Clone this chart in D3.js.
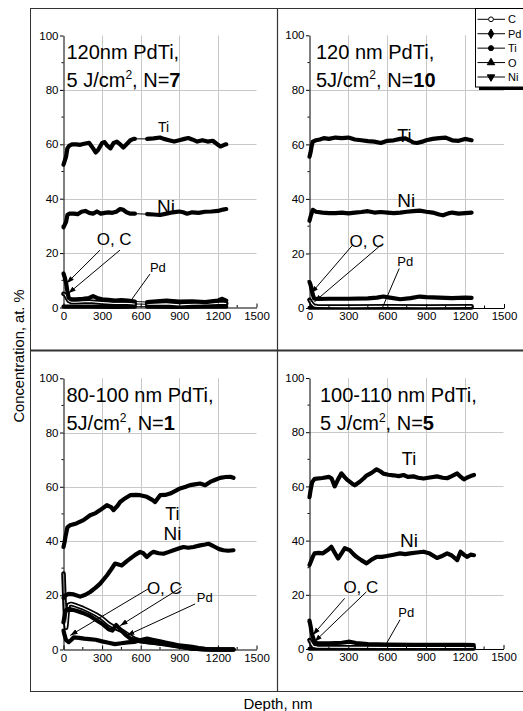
<!DOCTYPE html>
<html><head><meta charset="utf-8">
<script src="https://cdn.jsdelivr.net/npm/d3@7/dist/d3.min.js"></script>
<style>
body{margin:0;background:#fff}
svg{display:block}
text{font-family:"Liberation Sans",Arial,Helvetica,sans-serif;fill:#000}
</style>
</head><body>
<svg id="c" width="523" height="711"></svg>
<script>
// ---------- tick labels / categories ----------
const xTicks=[0,300,600,900,1200,1500];
const yTicks=[0,20,40,60,80,100];
const legendNames=["C","Pd","Ti","O","Ni"];
const legendSymbols=["circleOpen","diamond","circle","triUp","triDown"];

// ---------- data: [depth nm, concentration at.%] ----------
// Panel 1: 120nm PdTi, 5 J/cm2, N=7
const p1_Ti=[[0,52.5],[10,54],[20,55.5],[30,58.5],[45,59.5],[70,60],[100,60],[130,59.8],[160,60.2],[200,60.5],[230,58.5],[250,57],[270,58],[300,60.5],[320,60.8],[340,59.5],[365,58.5],[390,60.5],[415,61],[440,60],[465,58.8],[490,60],[520,61.5],[545,62],[555,62],[650,62],[700,62.2],[750,62.5],[780,62],[820,61.5],[860,61],[900,61.5],[940,62],[970,62.3],[1000,61.8],[1040,61],[1080,61.5],[1120,61],[1160,61.3],[1190,60.2],[1220,59.2],[1250,59.8],[1265,60]];
const p1_Ni=[[0,29.5],[10,30.5],[20,31.5],[30,34],[45,34.5],[80,34.5],[110,34.3],[140,35.2],[170,35.5],[200,34.8],[230,34.5],[260,35.3],[290,34.5],[320,34.8],[350,35],[380,34.8],[410,35.2],[440,36.2],[460,36],[490,35],[520,34.5],[555,34.5],[650,34.3],[700,34.2],[750,34],[800,34.5],[850,35],[900,35.3],[930,35],[960,34.5],[1000,35],[1050,34.8],[1100,35.2],[1150,35.3],[1200,35.5],[1240,36],[1265,36.2]];
const p1_O=[[0,12.5],[10,11],[20,9],[30,6],[40,3.5],[60,3],[100,3],[150,3.2],[200,3.5],[230,4.2],[260,3.5],[300,3],[350,2.8],[400,2.5],[450,2.7],[500,2.5],[555,2.2],[650,2],[700,2.2],[800,2.5],[900,2.2],[1000,2.3],[1100,2],[1200,2.5],[1230,3.2],[1265,2.5]];
const p1_C=[[0,5],[10,4.8],[20,4.2],[30,3.2],[40,2.5],[60,2],[100,2],[200,2.2],[300,1.8],[400,1.5],[500,1.5],[555,1.3],[650,1.2],[800,1.3],[900,1],[1000,1.2],[1100,1.3],[1200,1.5],[1265,1.5]];
const p1_Pd=[[0,0.3],[200,0.3],[400,0.2],[555,0.3],[650,0.3],[900,0.2],[1100,0.3],[1265,0.3]];
const p1_gaps=[[555,650]];

// Panel 2: 120 nm PdTi, 5J/cm2, N=10
const p2_Ti=[[0,55.5],[8,57],[15,59],[25,61],[50,61.5],[80,61.8],[110,62.3],[150,62],[200,62.5],[250,62.3],[300,62.5],[350,61.8],[400,61.5],[450,61.2],[500,61],[550,60.5],[600,61.3],[650,61.5],[700,62],[740,62.2],[770,61.5],[800,60.7],[830,60.5],[870,61],[900,61.5],[950,62],[1000,62.3],[1050,62.5],[1100,61.5],[1150,61.3],[1200,62],[1230,61.7],[1250,61.5]];
const p2_Ni=[[0,32],[8,33.5],[15,34.5],[25,36],[50,35.3],[100,35],[150,34.8],[200,34.8],[250,35],[300,34.7],[350,35],[400,35.2],[450,35.5],[500,35],[550,35.2],[600,35],[650,34.8],[700,35],[750,35.3],[800,35.5],[850,35.7],[900,35.3],[950,35],[1000,34.3],[1030,34],[1070,34.7],[1100,35],[1150,34.6],[1200,34.8],[1250,35]];
const p2_O=[[0,9.5],[8,8.5],[15,7],[25,5],[35,3.5],[60,3.3],[150,3.4],[300,3.4],[450,3.5],[520,3.8],[570,4.2],[620,3.8],[700,3.2],[780,3.6],[850,4.2],[900,4],[1000,3.8],[1100,3.6],[1200,3.8],[1250,3.7]];
const p2_C=[[0,3],[10,2.2],[20,1.5],[35,0.8],[60,0.6],[300,0.5],[600,0.6],[900,0.5],[1250,0.6]];
const p2_Pd=[[0,0.1],[400,0.1],[800,0.1],[1250,0.1]];
const p2_gaps=[];

// Panel 3: 80-100 nm PdTi, 5J/cm2, N=1
const p3_Ti=[[0,37.8],[8,39.5],[15,41.5],[30,45],[50,45.8],[100,46.5],[155,47.7],[207,49.5],[250,50.3],[285,51.4],[337,53.2],[370,52.5],[389,51.4],[420,53],[440,54.4],[480,55.8],[518,56.9],[560,57],[596,56.9],[648,56.3],[690,55.2],[712,54.4],[751,56.9],[790,57],[829,57.5],[870,58.5],[906,59.4],[950,60],[984,60.6],[1020,60.9],[1062,61.2],[1101,60.6],[1140,61.8],[1180,62.6],[1217,63.3],[1260,63.6],[1295,63.7],[1321,63.3]];
const p3_Ni=[[0,19],[10,19.8],[20,20],[39,20.5],[80,20.3],[130,19.5],[170,20.2],[207,21.2],[250,22.8],[285,24.3],[337,27.3],[370,29.5],[401,31.7],[453,31],[490,32.5],[518,33.5],[560,35],[596,36],[620,35.5],[648,34.1],[680,35.5],[699,36],[740,35.5],[777,35.3],[820,36],[855,36.6],[900,37.3],[932,37.8],[970,37.5],[1010,37.8],[1062,38.4],[1100,38.7],[1127,39],[1150,38.5],[1178,37.8],[1210,37],[1243,36.6],[1280,36.4],[1321,36.6]];
const p3_O=[[0,10],[10,13],[20,14.5],[40,15],[100,14.3],[150,13.5],[200,12.5],[250,11],[300,9.5],[350,7.5],[380,7],[410,9],[440,7.5],[480,5.5],[520,4],[560,3.5],[600,3],[700,2.5],[800,1.8],[900,1],[1000,0.3],[1100,0],[1321,0]];
const p3_C=[[0,28],[3,24],[6,20],[9,16],[12,13],[15,10],[20,8],[25,10],[30,13],[40,16.5],[60,16.8],[100,16.2],[150,15.3],[200,14.2],[250,13],[300,11.5],[350,9.5],[400,8],[450,7],[500,5.5],[550,4],[600,3.2],[650,2.8],[700,2.5],[800,2],[900,1.2],[1000,0.4],[1100,0.1],[1200,0],[1321,0]];
const p3_Pd=[[0,7],[10,5],[20,3.5],[40,2.7],[60,3.5],[80,4.5],[120,4.3],[160,4],[200,3.8],[250,3.6],[300,3],[350,2.5],[400,2],[450,2.3],[500,2.6],[550,2.8],[600,3.5],[650,4],[700,3.5],[750,3],[800,2.5],[850,2],[900,1.5],[950,1.3],[1000,1],[1050,0.5],[1100,0.2],[1150,0],[1321,0]];
const p3_gaps=[];

// Panel 4: 100-110 nm PdTi, 5 J/cm2, N=5
const p4_Ti=[[0,56],[8,58.5],[20,61.5],[40,62.8],[100,63.1],[150,63.5],[170,63],[195,60],[220,62.5],[247,64.8],[270,63.5],[290,62.5],[330,61],[350,60.4],[389,61.7],[420,63],[441,64],[480,65],[519,66.3],[550,65.5],[571,64.7],[610,64.3],[649,64.1],[690,63.8],[727,64.2],[760,63.5],[804,63.7],[840,63.2],[882,62.9],[930,63.3],[986,63.7],[1030,63.2],[1064,63],[1100,63.8],[1142,64.8],[1170,63.5],[1194,62.6],[1220,63.3],[1246,63.8],[1272,64.2]];
const p4_Ni=[[0,31],[10,32.2],[25,34],[39,35.3],[70,35.5],[104,35.3],[140,36.5],[169,37.7],[195,35.5],[221,33.4],[250,35.5],[273,37.2],[311,36.5],[340,35],[363,34],[400,32.8],[441,31.6],[480,33],[519,34],[560,34],[597,34.3],[650,34.8],[700,35.3],[740,35],[778,35.3],[830,35.6],[882,35.9],[930,35.2],[986,33.6],[1020,34.2],[1064,35.3],[1100,34.5],[1142,32.8],[1168,35.9],[1194,34.8],[1220,34],[1246,34.8],[1272,34.6]];
const p4_O=[[0,10.5],[8,8.5],[15,6.5],[25,4.5],[40,2.5],[60,2.1],[150,2.1],[250,2.3],[311,2.7],[360,2.2],[450,1.8],[600,1.6],[800,1.5],[1000,1.5],[1200,1.5],[1270,1.4]];
const p4_C=[[0,3.3],[15,2],[30,1],[60,0.7],[600,0.6],[1270,0.6]];
const p4_Pd=[[0,0.1],[600,0.1],[1270,0.1]];
const p4_gaps=[];

// ---------- panel texts & annotations (in data units) ----------
const panels=[
 {t1:"120nm PdTi,",t2:"5 J/cm",t3:", N=",tb:"7",
  series:{Pd:p1_Pd,C:p1_C,O:p1_O,Ni:p1_Ni,Ti:p1_Ti},gaps:p1_gaps,
  labels:[["Ti",734,64.6,14],["Ni",727,34.6,19],["O, C",258,23,17],["Pd",672,13.2,13]],
  arrows:[[284,21.1,25,8.9,1],[439,21.1,38,5.2,1],[672,12.3,517,2.1,0]]},
 {t1:"120 nm PdTi,",t2:"5J/cm",t3:", N=",tb:"10",
  series:{Pd:p2_Pd,C:p2_C,O:p2_O,Ni:p2_Ni,Ti:p2_Ti},gaps:p2_gaps,
  labels:[["Ti",677,61,18],["Ni",677,37.1,19],["O, C",308,22.5,17],["Pd",677,15.3,13]],
  arrows:[[333,23.1,13,5.4,1],[551,23.1,38,2.3,1],[692,14.5,564,0.3,0]]},
 {t1:"80-100 nm PdTi,",t2:"5J/cm",t3:", N=",tb:"1",
  series:{Pd:p3_Pd,C:p3_C,O:p3_O,Ni:p3_Ni,Ti:p3_Ti},gaps:p3_gaps,
  labels:[["Ti",790,47.9,18],["Ni",777,40.5,19],["O, C",648,20.6,17],["Pd",1036,17.5,13]],
  arrows:[[660,22.4,52,5.2,1],[920,23,440,8.8,1],[1023,16.8,493,5.2,1]]},
 {t1:"100-110 nm PdTi,",t2:"5 J/cm",t3:", N=",tb:"5",
  series:{Pd:p4_Pd,C:p4_C,O:p4_O,Ni:p4_Ni,Ti:p4_Ti},gaps:p4_gaps,
  labels:[["Ti",714,67.8,18],["Ni",700,37.7,19],["O, C",262,20.8,17],["Pd",687,11.9,13]],
  arrows:[[272,18.7,26,5.2,1],[440,21.1,39,2.7,1],[700,10.8,596,2.1,0]]}
];

// ---------- layout ----------
const layout=[
 {x0:63.5,x1:256.5,y0:307.5,y1:35.5,tx:66.5},
 {x0:309.5,x1:504,y0:308,y1:35.3,tx:316},
 {x0:63.5,x1:256.5,y0:649.5,y1:378.3,tx:66.5},
 {x0:309.5,x1:503.5,y0:649,y1:378,tx:320}
];

const svg=d3.select("#c");
const defs=svg.append("defs");
defs.append("marker").attr("id","ah").attr("markerUnits","userSpaceOnUse")
  .attr("markerWidth",8).attr("markerHeight",6).attr("refX",7.5).attr("refY",3).attr("orient","auto")
  .append("path").attr("d","M0,0.4L7.5,3L0,5.6Z").attr("fill","#000");

// frame
const frame=svg.append("g").attr("stroke","#333").attr("fill","none");
frame.append("line").attr("x1",30.5).attr("x2",30.5).attr("y1",8).attr("y2",691.5).attr("stroke-width",1);
frame.append("line").attr("x1",30).attr("x2",523).attr("y1",8.5).attr("y2",8.5).attr("stroke-width",1);
frame.append("line").attr("x1",30).attr("x2",523).attr("y1",691.5).attr("y2",691.5).attr("stroke-width",1);
frame.append("line").attr("x1",277.5).attr("x2",277.5).attr("y1",8).attr("y2",691.5).attr("stroke-width",1.2);
frame.append("line").attr("x1",30).attr("x2",523).attr("y1",350.5).attr("y2",350.5).attr("stroke-width",2);

function splitGaps(data,gaps){
  const segs=[];let cur=[];
  data.forEach((d,i)=>{
    if(i>0){const p=data[i-1];
      if(gaps.some(g=>p[0]<=g[0]&&d[0]>=g[1])){segs.push(cur);cur=[];}}
    cur.push(d);
  });
  segs.push(cur);return segs;
}

panels.forEach((P,i)=>{
  const L=layout[i];
  const x=d3.scaleLinear().domain([0,1500]).range([L.x0,L.x1]);
  const y=d3.scaleLinear().domain([0,100]).range([L.y0,L.y1]);
  const g=svg.append("g");
  // grid
  g.selectAll(".gx").data(xTicks.filter(t=>t>0&&t<1500)).join("line")
    .attr("x1",d=>Math.round(x(d))+0.5).attr("x2",d=>Math.round(x(d))+0.5)
    .attr("y1",y(0)).attr("y2",y(100)).attr("stroke","#c8c8c8").attr("stroke-width",1);
  g.selectAll(".gy").data(yTicks.filter(t=>t>0&&t<100)).join("line")
    .attr("y1",d=>Math.round(y(d))+0.5).attr("y2",d=>Math.round(y(d))+0.5)
    .attr("x1",x(0)).attr("x2",x(1500)).attr("stroke","#c8c8c8").attr("stroke-width",1);

  // series
  const line=d3.line().x(d=>x(d[0])).y(d=>y(d[1]));
  ["Pd","C","O","Ni","Ti"].forEach(name=>{
    const data=P.series[name];
    g.append("path").attr("d",line(data)).attr("fill","none").attr("stroke","#000").attr("stroke-width",1);
    splitGaps(data,P.gaps).forEach(s=>{
      g.append("path").attr("d",line(s)).attr("fill","none").attr("stroke","#000")
        .attr("stroke-width",name==="C"?4.6:4.2).attr("stroke-linejoin","round").attr("stroke-linecap","round");
      if(name==="C") g.append("path").attr("d",line(s)).attr("fill","none").attr("stroke","#fff")
        .attr("stroke-width",1.2).attr("stroke-linejoin","round");
    });
  });

  // axes
  const ay=g.append("g").attr("transform",`translate(${L.x0},0)`)
    .call(d3.axisLeft(y).tickValues(yTicks).tickFormat(d3.format("d")).tickSize(3.5).tickSizeOuter(0).tickPadding(1.5));
  const ax=g.append("g").attr("transform",`translate(0,${L.y0})`)
    .call(d3.axisBottom(x).tickValues(xTicks).tickFormat(d3.format("d")).tickSize(-4).tickSizeOuter(0).tickPadding(4.3));
  [ax,ay].forEach(a=>{
    a.selectAll("text").attr("font-size","11.5px").attr("font-family",'"Liberation Sans",Arial,sans-serif').attr("fill","#000");
    a.selectAll("line,path").attr("stroke","#000").attr("stroke-width",1);
  });
  // minor ticks
  g.selectAll(".my").data(d3.range(10,100,20)).join("line")
    .attr("x1",L.x0-2).attr("x2",L.x0).attr("y1",d=>y(d)).attr("y2",d=>y(d)).attr("stroke","#000");
  g.selectAll(".mx").data(d3.range(150,1500,300)).join("line")
    .attr("x1",d=>x(d)).attr("x2",d=>x(d)).attr("y1",L.y0).attr("y2",L.y0-2.5).attr("stroke","#000");

  // title
  g.append("text").attr("x",L.tx).attr("y",L.y1+23.5).attr("font-size","20px").text(P.t1);
  const t2=g.append("text").attr("x",L.tx).attr("y",L.y1+51.5).attr("font-size","20px");
  t2.append("tspan").text(P.t2);
  t2.append("tspan").attr("dy",-8).attr("font-size","12px").text("2");
  t2.append("tspan").attr("dy",8).text(P.t3);
  t2.append("tspan").attr("font-weight","bold").text(P.tb);

  // arrows
  P.arrows.forEach(a=>{
    const l=g.append("line").attr("x1",x(a[0])).attr("y1",y(a[1])).attr("x2",x(a[2])).attr("y2",y(a[3]))
      .attr("stroke","#000").attr("stroke-width",1);
    if(a[4]) l.attr("marker-end","url(#ah)");
  });
  // labels
  P.labels.forEach(lb=>{
    g.append("text").attr("x",x(lb[1])).attr("y",y(lb[2])).attr("font-size",lb[3]+"px").text(lb[0]);
  });
});

// axis titles
svg.append("text").attr("transform","translate(24,356) rotate(-90)").attr("text-anchor","middle")
  .attr("font-size","14.7px").text("Concentration, at. %");
svg.append("text").attr("x",278).attr("y",709).attr("text-anchor","middle")
  .attr("font-size","15px").text("Depth, nm");

// legend
const lg=svg.append("g");
lg.append("rect").attr("x",479).attr("y",11).attr("width",60).attr("height",79).attr("fill","#000");
lg.append("rect").attr("x",475.5).attr("y",8.5).attr("width",60).attr("height",78.5).attr("fill","#fff").attr("stroke","#000").attr("stroke-width",1);
const rowY=d3.scaleLinear().domain([0,legendNames.length-1]).range([19.3,77]);
const sym={circleOpen:d3.symbol(d3.symbolCircle,18)(),diamond:d3.symbol(d3.symbolDiamond,26)(),
  circle:d3.symbol(d3.symbolCircle,20)(),triUp:d3.symbol(d3.symbolTriangle,24)(),triDown:d3.symbol(d3.symbolTriangle,24)()};
legendNames.forEach((n,i)=>{
  const yy=rowY(i);
  lg.append("line").attr("x1",477.5).attr("x2",505).attr("y1",yy).attr("y2",yy).attr("stroke","#000");
  const s=legendSymbols[i];
  lg.append("path").attr("d",sym[s])
    .attr("transform",`translate(491,${yy})`+(s==="triDown"?" rotate(180)":""))
    .attr("fill",s==="circleOpen"?"#fff":"#000").attr("stroke","#000").attr("stroke-width",1);
  lg.append("text").attr("x",508).attr("y",yy+4).attr("font-size","11px").text(n);
});
</script>
</body></html>
